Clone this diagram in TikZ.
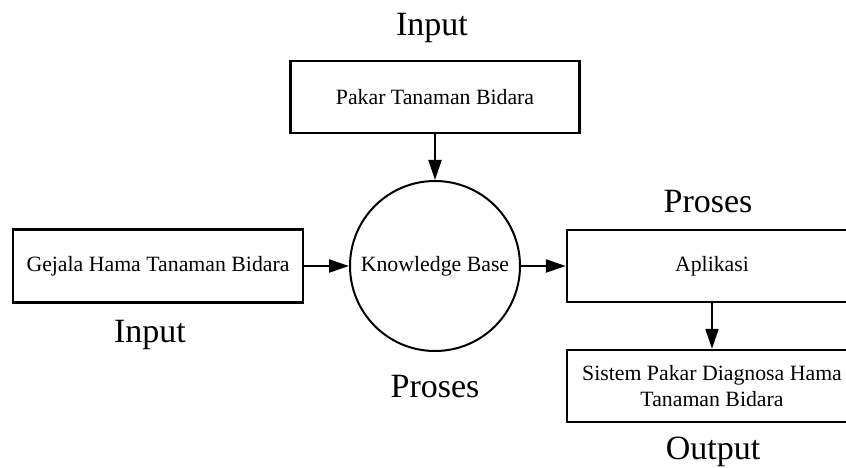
\documentclass[tikz,border=0pt]{standalone}
\usepackage{fontspec}
\setmainfont{Liberation Serif}
\usetikzlibrary{arrows.meta}
\begin{document}
\begin{tikzpicture}[x=1pt,y=-1pt,
  box/.style={draw, line width=2.4pt, inner sep=0pt, font=\fontsize{21.8}{26}\selectfont, align=center},
  lbl/.style={font=\fontsize{34}{38}\selectfont, inner sep=0pt},
  arr/.style={line width=2.2pt, -{Triangle[length=20pt,width=13pt]}}]
\useasboundingbox (0,0) rectangle (846,468);
\node[box, minimum width=289pt, minimum height=72pt] (pakar) at (435,97) {Pakar Tanaman Bidara};
\node[draw, circle, line width=2pt, minimum size=170pt, inner sep=0pt, font=\fontsize{21.8}{26}\selectfont] (kb) at (435,266) {Knowledge Base};
\node[box, minimum width=290pt, minimum height=73pt] (gejala) at (158,266) {Gejala Hama Tanaman Bidara};
\node[box, minimum width=290pt, minimum height=72pt] (apl) at (712,266) {Aplikasi};
\node[box, minimum width=290pt, minimum height=72pt] (sis) at (712,386) {Sistem Pakar Diagnosa Hama\\Tanaman Bidara};
\node[lbl] (in1) at (432,28) {Input};
\node[lbl] (in2) at (150,335) {Input};
\node[lbl] (pr1) at (708,202) {Proses};
\node[lbl] (pr2) at (435,387) {Proses};
\node[lbl] (out) at (713,452) {Output};
\draw[arr] (pakar) -- (kb);
\draw[arr] (gejala) -- (kb);
\draw[arr] (kb) -- (apl);
\draw[arr] (apl) -- (sis);
\end{tikzpicture}
\end{document}
